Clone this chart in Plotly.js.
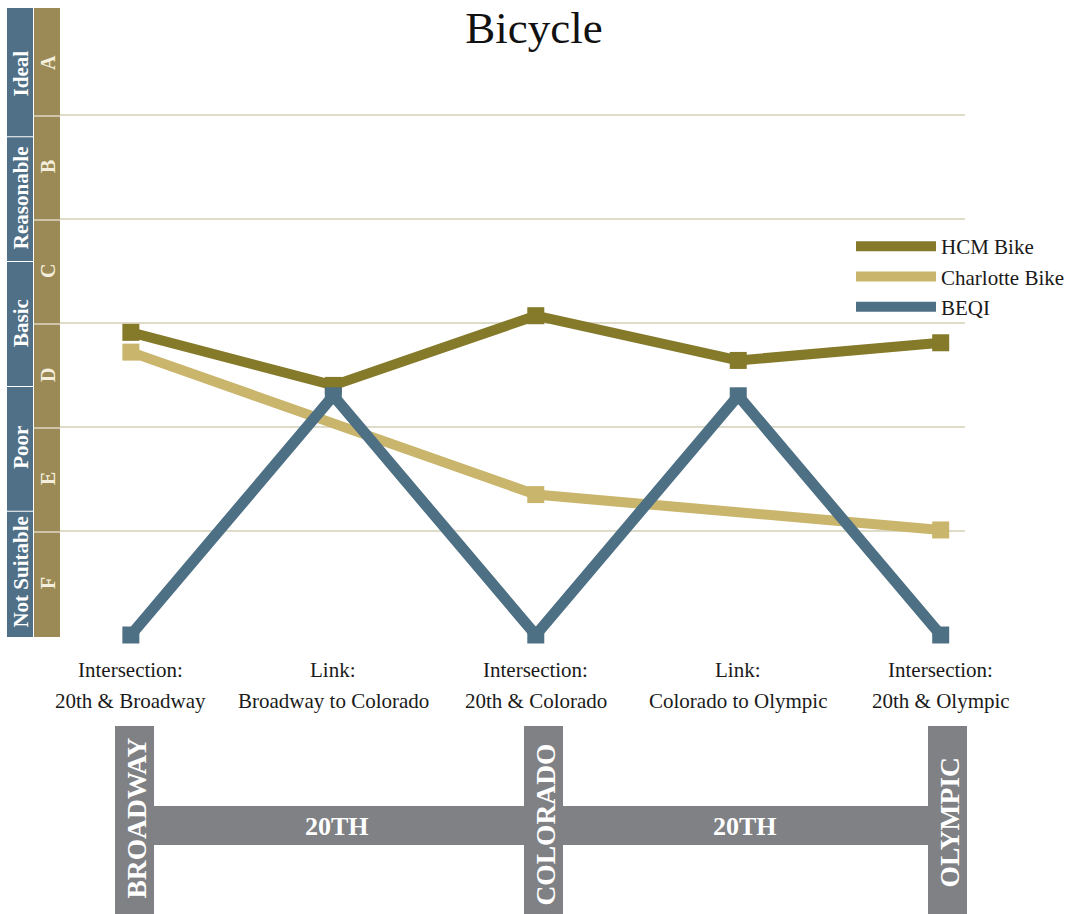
<!DOCTYPE html>
<html>
<head>
<meta charset="utf-8">
<script src="https://cdn.plot.ly/plotly-3.0.1.min.js"></script>
<style>html,body{margin:0;padding:0;background:#fff;}#chart{width:1083px;height:914px;}</style>
</head>
<body>
<div id="chart"></div>
<script>
// ---- data ----
var categories = [
  "Intersection:<br>20th & Broadway",
  "Link:<br>Broadway to Colorado",
  "Intersection:<br>20th & Colorado",
  "Link:<br>Colorado to Olympic",
  "Intersection:<br>20th & Olympic"
];
var hcmBike = [2.91, 2.40, 3.07, 2.64, 2.81];
var charlotteBike = [2.72, null, 1.35, null, 1.01];
var beqi = [0, 2.30, 0, 2.30, 0];
var seriesNames = ["HCM Bike", "Charlotte Bike", "BEQI"];
var qualityLabels = ["Not Suitable", "Poor", "Basic", "Reasonable", "Ideal"];
var gradeLetters = ["F", "E", "D", "C", "B", "A"];
var streetNames = ["BROADWAY", "COLORADO", "OLYMPIC"];
var corridorName = "20TH";

// ---- styling ----
var FONT = '"Liberation Serif", "Times New Roman", Times, serif';
var C_HCM = '#85792A', C_CHAR = '#C9B56B', C_BEQI = '#4E7085';
var C_BLUECOL = '#4F7086', C_OLIVECOL = '#9B8A56', C_GRAY = '#808185';
var W = 1083, H = 914, L = 60, R = 965, T = 11, B = 635;
function PX(x){ return (x - L) / (R - L); }
function PY(y){ return (B - y) / (B - T); }
var YMAX = 6;

var traces = [
  {x: categories, y: charlotteBike, name: seriesNames[1], mode: 'lines+markers', connectgaps: true,
   line: {color: C_CHAR, width: 10}, marker: {symbol: 'square', size: 17, color: C_CHAR}, showlegend: false, cliponaxis: false},
  {x: categories, y: hcmBike, name: seriesNames[0], mode: 'lines+markers',
   line: {color: C_HCM, width: 10}, marker: {symbol: 'square', size: 17, color: C_HCM}, showlegend: false, cliponaxis: false},
  {x: categories, y: beqi, name: seriesNames[2], mode: 'lines+markers',
   line: {color: C_BEQI, width: 11}, marker: {symbol: 'square', size: 17, color: C_BEQI}, showlegend: false, cliponaxis: false},
  // legend entries
  {x: [null], y: [null], name: seriesNames[0], mode: 'lines', line: {color: C_HCM, width: 10}},
  {x: [null], y: [null], name: seriesNames[1], mode: 'lines', line: {color: C_CHAR, width: 10}},
  {x: [null], y: [null], name: seriesNames[2], mode: 'lines', line: {color: C_BEQI, width: 10}}
];

var shapes = [], annotations = [];
function ann(o){ o.showarrow = false; o.xanchor = o.xanchor || 'center'; o.yanchor = o.yanchor || 'middle'; annotations.push(o); }
var gap = 1.5 / (B - T);
// blue quality column
var bandH = YMAX / qualityLabels.length;
qualityLabels.forEach(function(lbl, i){
  var y0 = i * bandH / YMAX, y1 = (i + 1) * bandH / YMAX;
  shapes.push({type: 'rect', xref: 'paper', yref: 'paper', x0: PX(7), x1: PX(33),
    y0: y0 + (i > 0 ? gap : 0) - 2 / (B - T), y1: y1 - (i < qualityLabels.length - 1 ? gap : 0) + (i === qualityLabels.length - 1 ? 3 / (B - T) : 0),
    fillcolor: C_BLUECOL, line: {width: 0}});
  ann({xref: 'paper', yref: 'paper', x: PX(21), y: (y0 + y1) / 2, text: '<b>' + lbl + '</b>',
    textangle: -90, font: {family: FONT, size: 21, color: '#ffffff'}});
});
// olive grade column
gradeLetters.forEach(function(g, i){
  var y0 = i / YMAX, y1 = (i + 1) / YMAX;
  shapes.push({type: 'rect', xref: 'paper', yref: 'paper', x0: PX(34), x1: PX(60),
    y0: y0 + (i > 0 ? gap : 0) - 2 / (B - T), y1: y1 - (i < gradeLetters.length - 1 ? gap : 0) + (i === gradeLetters.length - 1 ? 3 / (B - T) : 0),
    fillcolor: C_OLIVECOL, line: {width: 0}});
  ann({xref: 'paper', yref: 'paper', x: PX(48), y: (y0 + y1) / 2, text: '<b>' + g + '</b>',
    textangle: -90, font: {family: FONT, size: 20, color: '#F4EFDD'}});
});

// x category labels (two lines each, spaced as in the original)
categories.forEach(function(c){
  var parts = c.split('<br>');
  ann({xref: 'x', yref: 'paper', x: c, y: PY(670), text: parts[0], font: {family: FONT, size: 21, color: '#1a1a1a'}});
  ann({xref: 'x', yref: 'paper', x: c, y: PY(701), text: parts[1], font: {family: FONT, size: 21, color: '#1a1a1a'}});
});

// street diagram
shapes.push({type: 'rect', xref: 'paper', yref: 'paper', x0: PX(150), x1: PX(932), y0: PY(845), y1: PY(806),
  fillcolor: C_GRAY, line: {width: 0}});
var streetX = [[115, 154], [524, 563], [928, 967]];
var streetLabelY = [818, 825, 823];
streetNames.forEach(function(s, i){
  shapes.push({type: 'rect', xref: 'paper', yref: 'paper', x0: PX(streetX[i][0]), x1: PX(streetX[i][1]),
    y0: PY(916), y1: PY(726), fillcolor: C_GRAY, line: {width: 0}});
  ann({xref: 'paper', yref: 'paper', x: PX((streetX[i][0] + streetX[i][1]) / 2 + 1), y: PY(streetLabelY[i]),
    text: '<b>' + s + '</b>', textangle: -90, font: {family: FONT, size: 27.5, color: '#ffffff'}});
});
[337, 745].forEach(function(cx){
  ann({xref: 'paper', yref: 'paper', x: PX(cx), y: PY(826), text: '<b>' + corridorName + '</b>',
    font: {family: FONT, size: 26, color: '#ffffff'}});
});

var layout = {
  width: W, height: H,
  margin: {l: L, r: W - R, t: T, b: H - B, pad: 0},
  paper_bgcolor: '#ffffff', plot_bgcolor: '#ffffff',
  font: {family: FONT, color: '#1a1a1a'},
  title: {text: 'Bicycle', font: {family: FONT, size: 45, color: '#111111'},
    x: 534 / W, xanchor: 'center', xref: 'container', y: 1 - 27 / H, yanchor: 'middle', yref: 'container'},
  xaxis: {type: 'category', range: [-0.35, 4.12], showgrid: false, zeroline: false, showline: false,
    ticks: '', showticklabels: false, fixedrange: true},
  yaxis: {range: [0, YMAX], tickvals: [1, 2, 3, 4, 5], showticklabels: false, ticks: '',
    showgrid: true, gridcolor: '#DEDBC9', gridwidth: 1.5, zeroline: false, showline: false, fixedrange: true},
  showlegend: true,
  legend: {x: PX(851), y: PY(226), xanchor: 'left', yanchor: 'top', bgcolor: 'rgba(0,0,0,0)',
    font: {family: FONT, size: 21, color: '#1a1a1a'}, itemwidth: 80, tracegroupgap: 0},
  shapes: shapes,
  annotations: annotations
};

Plotly.newPlot('chart', traces, layout, {displayModeBar: false, staticPlot: true});
</script>
</body>
</html>
